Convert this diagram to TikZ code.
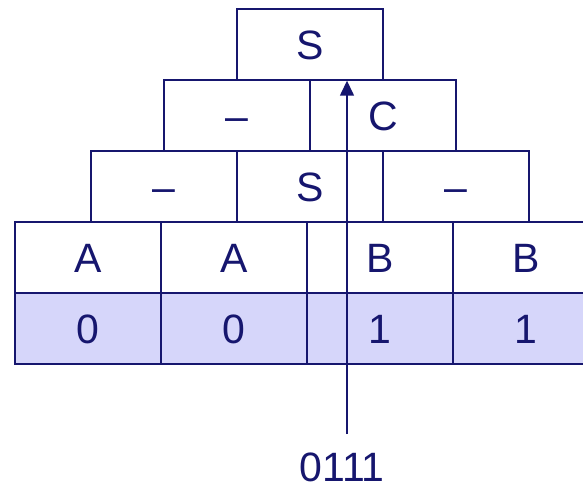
\documentclass[tikz,border=0pt]{standalone}
\usepackage{fontspec}
\setmainfont{Liberation Sans}
\usetikzlibrary{arrows.meta}
\definecolor{navy}{RGB}{22,22,110}
\definecolor{lav}{RGB}{214,214,250}
\begin{document}
\begin{tikzpicture}[x=1pt,y=-1pt,
  cell/.style={draw=navy,line width=1.4pt,minimum width=146pt,minimum height=71pt,inner sep=0pt,
    text height=29.5pt,text depth=0pt,
    text=navy,font=\fontsize{41}{41}\selectfont},
  bitcell/.style={cell,fill=lav},
  lbl/.style={text=navy,font=\fontsize{41}{41}\selectfont,inner sep=0pt,text height=29.5pt,text depth=0pt}]
\useasboundingbox (0,0) rectangle (583,489);
\clip (0,0) rectangle (583,489);
% row 1
\node[cell] (s1) at (310,44.5) {S};
% row 2
\node[cell] (m1) at (237,115.5) {–};
\node[cell] (c1) at (383,115.5) {C};
% row 3
\node[cell] (m2) at (164,186.5) {–};
\node[cell] (s2) at (310,186.5) {S};
\node[cell] (m3) at (456,186.5) {–};
% row 4
\node[cell] (a1) at (88,257.5) {A};
\node[cell] (a2) at (234,257.5) {A};
\node[cell] (b1) at (380,257.5) {B};
\node[cell] (b2) at (526,257.5) {B};
% row 5
\node[bitcell] (z1) at (88,328.5) {0};
\node[bitcell] (z2) at (234,328.5) {0};
\node[bitcell] (o1) at (380,328.5) {1};
\node[bitcell] (o2) at (526,328.5) {1};
% arrow
\coordinate (in) at (347,434);
\draw[navy,line width=1.4pt,-{Triangle[length=15pt,width=14pt]}] (in) -- (in |- s1.south);
\node[lbl] (code) at (342,467) {0111};
\end{tikzpicture}
\end{document}
